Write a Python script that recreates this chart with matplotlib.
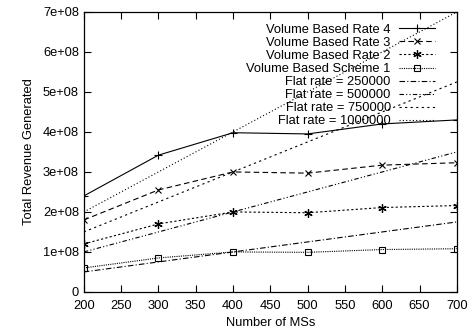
import numpy as np
import matplotlib
matplotlib.use("Agg")
import matplotlib.pyplot as plt
from matplotlib.ticker import FuncFormatter

plt.rcParams['font.family'] = ['Liberation Sans', 'DejaVu Sans']
plt.rcParams['font.size'] = 9.3

ms = [200, 300, 400, 500, 600, 700]
rate4 = [2.40e8, 3.42e8, 3.98e8, 3.95e8, 4.20e8, 4.30e8]
rate3 = [1.80e8, 2.55e8, 3.00e8, 2.97e8, 3.17e8, 3.23e8]
rate2 = [1.20e8, 1.70e8, 2.00e8, 1.98e8, 2.11e8, 2.16e8]
scheme1 = [0.60e8, 0.85e8, 1.00e8, 0.99e8, 1.06e8, 1.08e8]
flat_250k = [0.50e8, 0.75e8, 1.00e8, 1.25e8, 1.50e8, 1.75e8]
flat_500k = [1.00e8, 1.50e8, 2.00e8, 2.50e8, 3.00e8, 3.50e8]
flat_750k = [1.50e8, 2.25e8, 3.00e8, 3.75e8, 4.50e8, 5.25e8]
flat_1m = [2.00e8, 3.00e8, 4.00e8, 5.00e8, 6.00e8, 7.00e8]

fig = plt.figure(figsize=(4.71, 3.31), dpi=100)
ax = fig.add_axes([0.178, 0.118, 0.792, 0.846])

lw = 0.8
ax.plot(ms, rate4, color='black', lw=lw, ls='-', marker='+', ms=6, mew=0.8, label='Volume Based Rate 4')
ax.plot(ms, rate3, color='black', lw=lw, ls=(0, (5, 3)), marker='x', ms=5, mew=0.8, label='Volume Based Rate 3')
ax.plot(ms, rate2, color='black', lw=lw, ls=(0, (2, 2)), marker=(6, 2, 0), ms=6, mew=0.9, label='Volume Based Rate 2')
ax.plot(ms, scheme1, color='black', lw=lw, ls=(0, (1, 1)), marker='s', ms=5, mfc='none', mew=0.8, label='Volume Based Scheme 1')
ax.plot(ms, flat_250k, color='black', lw=lw, ls=(0, (5, 2, 1, 2)), label='Flat rate = 250000')
ax.plot(ms, flat_500k, color='black', lw=lw, ls=(0, (4, 2, 1, 2, 1, 2)), label='Flat rate = 500000')
ax.plot(ms, flat_750k, color='black', lw=lw, ls=(0, (2, 3)), label='Flat rate = 750000')
ax.plot(ms, flat_1m, color='black', lw=lw, ls=(0, (1, 2)), label='Flat rate = 1000000')

ax.set_xlim(200, 700)
ax.set_ylim(0, 7e8)
ax.set_xticks(np.arange(200, 701, 50))
ax.set_yticks(np.arange(0, 7.01e8, 1e8))
ax.yaxis.set_major_formatter(FuncFormatter(lambda v, p: '0' if v == 0 else f'{v:.0e}'))
ax.tick_params(direction='in', top=True, right=True, length=5, width=0.8, labelsize=9.3)
ax.tick_params(axis='x', pad=5.5)
for s in ax.spines.values():
    s.set_linewidth(0.9)

ax.set_xlabel('Number of MSs', fontsize=9.3, labelpad=4)
ax.set_ylabel('Total Revenue Generated', fontsize=9.3, labelpad=6)

ax.legend(loc='upper right', frameon=False, markerfirst=False, fontsize=9.3,
          handlelength=2.8, handletextpad=0.6, labelspacing=0.08,
          borderaxespad=0.3, bbox_to_anchor=(0.965, 0.99))

fig.savefig('out.png', dpi=100)
